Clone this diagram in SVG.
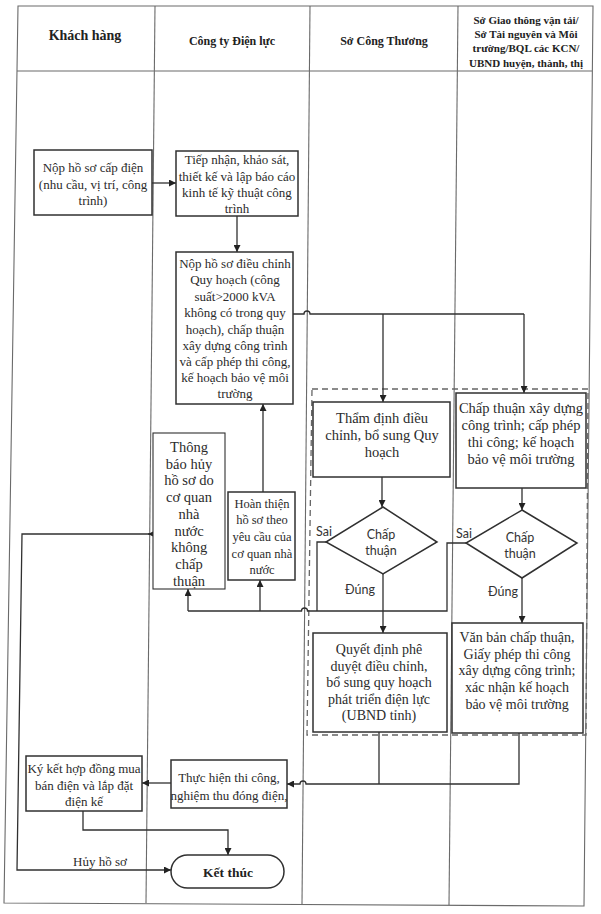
<svg xmlns="http://www.w3.org/2000/svg" width="601" height="914" viewBox="0 0 601 914">
<style>
.grid{fill:none;stroke:#6a6a6a;stroke-width:1.1}
.dash{fill:none;stroke:#666;stroke-width:1.3;stroke-dasharray:6 4}
.box{fill:#fff;stroke:#303030;stroke-width:1.5}
.ln{fill:none;stroke:#303030;stroke-width:1.3}
.t{font-family:"Liberation Serif","Times New Roman",serif;font-size:13px;fill:#2b2b2b;text-anchor:middle}
.t14{font-size:14px}
.t145{font-size:14.5px}
.t125{font-size:12.5px}
.h{font-family:"Liberation Serif","Times New Roman",serif;font-weight:bold;fill:#222;text-anchor:middle}
.s{font-family:Lato,"Open Sans",sans-serif;font-size:12.5px;fill:#333}
</style>
<defs>
<marker id="ar" markerUnits="userSpaceOnUse" markerWidth="8" markerHeight="7" refX="7" refY="3.5" orient="auto">
<path d="M0,0 L7,3.5 L0,7 z" fill="#222"/>
</marker>
</defs>
<rect width="601" height="914" fill="#fff"/>
<g id="table">
<path class="grid" d="M18 6 L593 6 L584 906 L4 903 Z"/>
<line class="grid" x1="17" y1="71" x2="592" y2="71"/>
<line class="grid" x1="155" y1="6" x2="146" y2="903"/>
<line class="grid" x1="310" y1="6" x2="302" y2="905"/>
<line class="grid" x1="458" y1="6" x2="449" y2="905"/>
<text class="h" x="85" y="40" font-size="14">Khách hàng</text>
<text class="h" x="232" y="45" font-size="12">Công ty Điện lực</text>
<text class="h" x="384" y="45" font-size="12">Sở Công Thương</text>
<text class="h" x="526" y="24" font-size="11">Sở Giao thông vận tải/</text>
<text class="h" x="526" y="38" font-size="11">Sở Tài nguyên và Môi</text>
<text class="h" x="526" y="52" font-size="11">trường/BQL các KCN/</text>
<text class="h" x="526" y="67" font-size="11">UBND huyện, thành, thị</text>
</g>
<g id="group-dashed">
<path class="dash" d="M312 389 L588 389 L586 735 L307 735 Z"/>
</g>
<g id="connectors">
<path class="ln" d="M152 183 H176" marker-end="url(#ar)"/>
<path class="ln" d="M237 216 V252" marker-end="url(#ar)"/>
<path class="ln" d="M293 314 H304 a3 3 0 0 1 6 0 H524"/>
<path class="ln" d="M383 314 V402" marker-end="url(#ar)"/>
<path class="ln" d="M524 314 V393" marker-end="url(#ar)"/>
<path class="ln" d="M382 477 V507" marker-end="url(#ar)"/>
<path class="ln" d="M522 488 V510" marker-end="url(#ar)"/>
<path class="ln" d="M326 542 H317 V611"/>
<path class="ln" d="M466 543 H447 V611 H307.5 a3 3 0 0 0 -6 0 H188"/>
<path class="ln" d="M188 611 V589" marker-end="url(#ar)"/>
<path class="ln" d="M260 611 V580" marker-end="url(#ar)"/>
<path class="ln" d="M263 492 V404" marker-end="url(#ar)"/>
<path class="ln" d="M383 574 V633" marker-end="url(#ar)"/>
<path class="ln" d="M522 578 V623" marker-end="url(#ar)"/>
<path class="ln" d="M379 732 V784"/>
<path class="ln" d="M519 733 V784 H306 a3 3 0 0 0 -6 0 H287" marker-end="url(#ar)"/>
<path class="ln" d="M171 783 H142" marker-end="url(#ar)"/>
<path class="ln" d="M83 811 V830 H228 V855" marker-end="url(#ar)"/>
<path class="ln" d="M155 534 H148" marker-end="url(#ar)"/>
<path class="ln" d="M149 534 H22 L17 870 H171" marker-end="url(#ar)"/>
<text class="t" x="100" y="866">Hủy hồ sơ</text>
<text class="s" x="316" y="536">Sai</text>
<text class="s" x="456" y="538">Sai</text>
<text class="s" x="360" y="594" text-anchor="middle">Đúng</text>
<text class="s" x="503" y="596" text-anchor="middle">Đúng</text>
</g>
<g id="n1">
<rect class="box" x="34" y="150" width="118" height="65"/>
<text class="t" x="93" y="172">Nộp hồ sơ cấp điện</text>
<text class="t" x="93" y="188.5">(nhu cầu, vị trí, công</text>
<text class="t" x="93" y="205">trình)</text>
</g>
<g id="n2">
<rect class="box" x="176" y="151" width="122" height="65"/>
<text class="t" x="237" y="164">Tiếp nhận, khảo sát,</text>
<text class="t" x="237" y="180.5">thiết kế và lập báo cáo</text>
<text class="t" x="237" y="197">kinh tế kỹ thuật công</text>
<text class="t" x="237" y="213">trình</text>
</g>
<g id="n3">
<rect class="box" x="176" y="252" width="117" height="152"/>
<text class="t" x="235" y="267.5">Nộp hồ sơ điều chỉnh</text>
<text class="t" x="235" y="284">Quy hoạch (công</text>
<text class="t" x="235" y="300.5">suất&gt;2000 kVA</text>
<text class="t" x="235" y="317">không có trong quy</text>
<text class="t" x="235" y="333.5">hoạch), chấp thuận</text>
<text class="t" x="235" y="350">xây dựng công trình</text>
<text class="t" x="235" y="366">và cấp phép thi công,</text>
<text class="t" x="235" y="382">kế hoạch bảo vệ môi</text>
<text class="t" x="235" y="398">trường</text>
</g>
<g id="n4">
<rect class="box" x="313" y="402" width="137" height="75"/>
<text class="t t145" x="382" y="423">Thẩm định điều</text>
<text class="t t145" x="382" y="440">chỉnh, bổ sung Quy</text>
<text class="t t145" x="382" y="457">hoạch</text>
</g>
<g id="n5">
<rect class="box" x="456" y="393" width="130" height="95"/>
<text class="t t145" x="521" y="413">Chấp thuận xây dựng</text>
<text class="t t145" x="521" y="430">công trình; cấp phép</text>
<text class="t t145" x="521" y="447">thi công; kế hoạch</text>
<text class="t t145" x="521" y="464">bảo vệ môi trường</text>
</g>
<g id="n6">
<polygon class="box" points="383,507 437,542 383,574 326,542"/>
<text class="s" x="381" y="539" text-anchor="middle">Chấp</text>
<text class="s" x="381" y="555" text-anchor="middle">thuận</text>
</g>
<g id="n7">
<polygon class="box" points="522,510 577,543 522,578 466,543"/>
<text class="s" x="520" y="542" text-anchor="middle">Chấp</text>
<text class="s" x="520" y="558" text-anchor="middle">thuận</text>
</g>
<g id="n8">
<rect class="box" x="153" y="433" width="72" height="156" style="stroke-width:1.1"/>
<text class="t t145" x="189" y="452">Thông</text>
<text class="t t145" x="189" y="468.7">báo hủy</text>
<text class="t t145" x="189" y="485.4">hồ sơ do</text>
<text class="t t145" x="189" y="502.1">cơ quan</text>
<text class="t t145" x="189" y="518.8">nhà</text>
<text class="t t145" x="189" y="535.5">nước</text>
<text class="t t145" x="189" y="552.2">không</text>
<text class="t t145" x="189" y="568.9">chấp</text>
<text class="t t145" x="189" y="585.6">thuận</text>
</g>
<g id="n9">
<rect class="box" x="228" y="492" width="67" height="88"/>
<text class="t t125" x="262" y="507.5">Hoàn thiện</text>
<text class="t t125" x="262" y="524">hồ sơ theo</text>
<text class="t t125" x="262" y="541">yêu cầu của</text>
<text class="t t125" x="262" y="557.5">cơ quan nhà</text>
<text class="t t125" x="262" y="574">nước</text>
</g>
<g id="n10">
<rect class="box" x="313" y="633" width="134" height="99"/>
<text class="t t14" x="379" y="654">Quyết định phê</text>
<text class="t t14" x="379" y="670.5">duyệt điều chỉnh,</text>
<text class="t t14" x="379" y="687">bổ sung quy hoạch</text>
<text class="t t14" x="379" y="703.5">phát triển điện lực</text>
<text class="t t14" x="379" y="720">(UBND tỉnh)</text>
</g>
<g id="n11">
<rect class="box" x="452" y="623" width="131" height="110"/>
<text class="t t14" x="517" y="642">Văn bản chấp thuận,</text>
<text class="t t14" x="517" y="658.7">Giấy phép thi công</text>
<text class="t t14" x="517" y="675.4">xây dựng công trình;</text>
<text class="t t14" x="517" y="692.1">xác nhận kế hoạch</text>
<text class="t t14" x="517" y="708.8">bảo vệ môi trường</text>
</g>
<g id="n12">
<rect class="box" x="171" y="760" width="116" height="48"/>
<text class="t" x="229" y="781.5">Thực hiện thi công,</text>
<text class="t" x="229" y="799.5">nghiệm thu đóng điện,</text>
</g>
<g id="n13">
<rect class="box" x="26" y="756" width="116" height="55"/>
<text class="t" x="84" y="772.5">Ký kết hợp đồng mua</text>
<text class="t" x="84" y="789.5">bán điện và lắp đặt</text>
<text class="t" x="84" y="806">điện kế</text>
</g>
<g id="n14">
<rect class="box" x="171" y="855" width="113" height="33" rx="16.5"/>
<text class="h" x="228" y="877" font-size="13.5">Kết thúc</text>
</g>
</svg>
